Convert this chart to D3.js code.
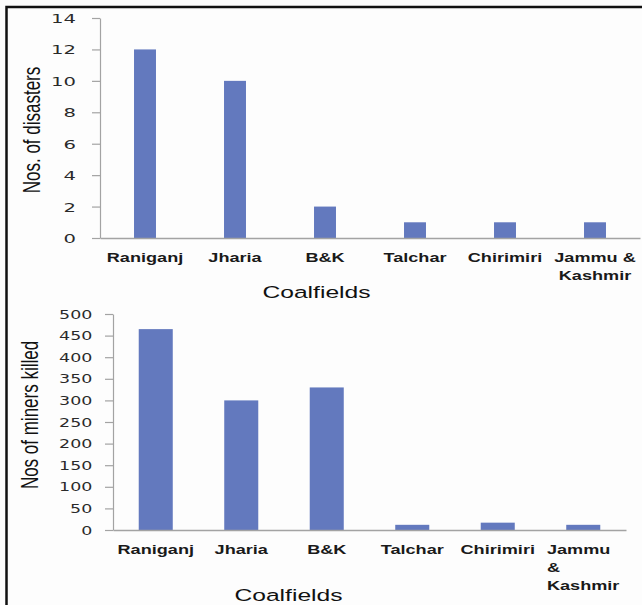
<!DOCTYPE html>
<html>
<head>
<meta charset="utf-8">
<script src="https://cdn.jsdelivr.net/npm/d3@7"></script>
<style>
  html, body { margin: 0; padding: 0; background: #fdfdfd; }
  svg { display: block; }
</style>
</head>
<body>
<svg id="chart" width="642" height="605"></svg>
<script>
// ---- data ----
const categories = ["Raniganj", "Jharia", "B&K", "Talchar", "Chirimiri", "Jammu & Kashmir"];
const disasters = [12, 10, 2, 1, 1, 1];
const minersKilled = [465, 300, 330, 12, 17, 12];
const disasterTicks = [0, 2, 4, 6, 8, 10, 12, 14];
const killedTicks = [0, 50, 100, 150, 200, 250, 300, 350, 400, 450, 500];
const topLabelLines = [["Raniganj"], ["Jharia"], ["B&K"], ["Talchar"], ["Chirimiri"], ["Jammu &", "Kashmir"]];
const bottomLabelLines = [["Raniganj"], ["Jharia"], ["B&K"], ["Talchar"], ["Chirimiri"], ["Jammu", "&", "Kashmir"]];
const xTitle = "Coalfields";
const topYTitle = "Nos. of disasters";
const bottomYTitle = "Nos of miners killed";

// ---- style ----
const barColor = "#6379be";
const axisColor = "#a3a3a3";
const svg = d3.select("#chart");

// frame
svg.append("rect").attr("x", 0).attr("y", 0).attr("width", 642).attr("height", 605).attr("fill", "#fdfdfd");
svg.append("path").attr("d", "M6.5,700 V7 H700").attr("fill", "none").attr("stroke", "#111").attr("stroke-width", 2.5);

function drawChart(o) {
  const x = d3.scaleBand().domain(categories).range([o.x0, o.x1])
    .paddingInner(o.pad).paddingOuter(o.pad / 2);
  const y = d3.scaleLinear().domain([0, o.max]).range([o.yBottom, o.yTop]);
  const g = svg.append("g");

  // bars
  g.selectAll("rect.bar").data(o.values).join("rect")
    .attr("class", "bar")
    .attr("x", (d, i) => x(categories[i]))
    .attr("y", d => y(d))
    .attr("width", x.bandwidth())
    .attr("height", d => y(0) - y(d))
    .attr("fill", barColor);

  // y axis
  const ya = g.append("g").attr("transform", `translate(${o.x0},0)`)
    .call(d3.axisLeft(y).tickValues(o.ticks).tickSize(o.tickLen).tickSizeOuter(0).tickFormat(d3.format("d")));
  ya.select(".domain").attr("stroke", axisColor).attr("stroke-width", 1.2);
  ya.selectAll(".tick line").attr("stroke", axisColor).attr("stroke-width", 1.2);
  ya.selectAll(".tick text")
    .attr("x", 0).attr("dy", "0.36em")
    .attr("text-anchor", "end")
    .attr("transform", `translate(${-o.tickGap},0) scale(${o.tickScale},1)`)
    .attr("fill", "#2a2a2a")
    .style("font-family", "'DejaVu Sans', Verdana, sans-serif")
    .style("font-size", o.tickFont + "px");

  // x axis
  const xa = g.append("g").attr("transform", `translate(0,${o.yBottom})`)
    .call(d3.axisBottom(x).tickSize(0).tickSizeOuter(0).tickFormat(""));
  xa.select(".domain").attr("stroke", axisColor).attr("stroke-width", 1.4);
  xa.selectAll(".tick text").remove();
  const s = 1.45;
  xa.selectAll(".tick").each(function (d, i) {
    const tick = d3.select(this);
    const lines = o.labels[i];
    const texts = lines.map((ln, j) => tick.append("text")
      .text(ln)
      .attr("fill", "#1a1a1a")
      .style("font-family", "'Liberation Sans', Arial, sans-serif")
      .style("font-weight", "bold")
      .style("font-size", "12.5px"));
    let anchor = "middle", dx = 0;
    if (lines.length > 1 && o.blockAlign) {
      anchor = "start";
      const w = d3.max(texts, t => t.node().getComputedTextLength());
      dx = -w * s / 2;
    }
    texts.forEach((t, j) => t.attr("text-anchor", anchor)
      .attr("transform", `translate(${dx},${o.labelDy + j * o.lineH}) scale(${s},1)`));
  });

  // x title
  svg.append("text").text(xTitle)
    .attr("text-anchor", "middle")
    .attr("transform", `translate(${o.xTitleX},${o.xTitleY}) scale(${s},1)`)
    .attr("fill", "#111")
    .style("font-family", "'Liberation Sans', Arial, sans-serif")
    .style("font-size", "17px");

  // y title
  svg.append("text").text(o.yTitle)
    .attr("text-anchor", "middle")
    .attr("transform", `translate(${o.yTitleX},${o.yTitleY}) scale(1.45,1) rotate(-90)`)
    .attr("fill", "#111")
    .style("font-family", "'Liberation Sans', Arial, sans-serif")
    .style("font-size", "17px");
}

drawChart({
  values: disasters, ticks: disasterTicks, max: 14, labels: topLabelLines,
  x0: 100, x1: 640, pad: 0.756, yTop: 18, yBottom: 238,
  tickLen: 8, tickGap: 24, tickScale: 1.58, tickFont: 12.4,
  labelDy: 23.5, lineH: 18.5, blockAlign: false,
  xTitleX: 316.5, xTitleY: 297.5,
  yTitle: topYTitle, yTitleX: 40, yTitleY: 130
});

drawChart({
  values: minersKilled, ticks: killedTicks, max: 500, labels: bottomLabelLines,
  x0: 113, x1: 626, pad: 0.602, yTop: 314, yBottom: 530,
  tickLen: 8, tickGap: 20.7, tickScale: 1.53, tickFont: 11.4,
  labelDy: 24, lineH: 18, blockAlign: true,
  xTitleX: 288.5, xTitleY: 601,
  yTitle: bottomYTitle, yTitleX: 38.3, yTitleY: 415
});
</script>
</body>
</html>
